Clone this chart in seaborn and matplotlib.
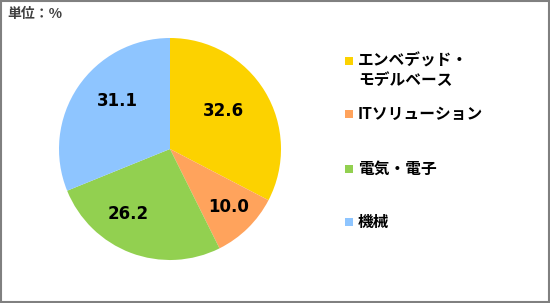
import matplotlib
matplotlib.use("Agg")
import matplotlib.pyplot as plt
from matplotlib.patches import Rectangle
import seaborn as sns

categories = ["エンベデッド・\nモデルベース", "ITソリューション", "電気・電子", "機械"]
values = [32.6, 10.0, 26.2, 31.1]
colors = ["#FCD200", "#FFA35C", "#92D050", "#8EC5FF"]
unit_label = "単位：%"
# label positions inside the pie (fraction of radius)
label_pos = [(0.477, 0.342), (0.532, -0.523), (-0.378, -0.586), (-0.477, 0.432)]

sns.set_theme(style="white")
plt.rcParams["font.family"] = ["Noto Sans CJK JP", "DejaVu Sans"]

fig = plt.figure(figsize=(5.5, 3.03), dpi=100)
ax = fig.add_axes([59/550, 43/303, 222/550, 222/303])

wedges, texts = ax.pie(values, colors=sns.color_palette(colors), startangle=90,
                       counterclock=False, wedgeprops=dict(linewidth=0))
ax.set_xlim(-1, 1)
ax.set_ylim(-1, 1)
ax.set_aspect("equal")
ax.axis("off")

for v, (x, y) in zip(values, label_pos):
    ax.text(x, y, f"{v:.1f}", ha="center", va="center",
            fontsize=12, fontweight="bold", color="black", family="DejaVu Sans")

# legend
ys = [61, 114, 169, 222]
for c, lab, y in zip(colors, categories, ys):
    fig.patches.append(Rectangle((345/550, 1 - (y + 4)/303), 8/550, 8/303,
                                 transform=fig.transFigure, facecolor=c, edgecolor="none"))
    fig.text(358/550, 1 - (y - 8)/303, lab, ha="left", va="top", fontsize=11.3,
             fontweight="bold", color="black", linespacing=1.2)

fig.text(7/550, 1 - 14/303, unit_label, ha="left", va="center", fontsize=10,
         fontweight="bold", color="#404040")

fig.patches.append(Rectangle((0.001, 0.002), 0.997, 0.995, transform=fig.transFigure,
                             facecolor="none", edgecolor="#808080", linewidth=1.5))

fig.savefig("out.png", dpi=100)
